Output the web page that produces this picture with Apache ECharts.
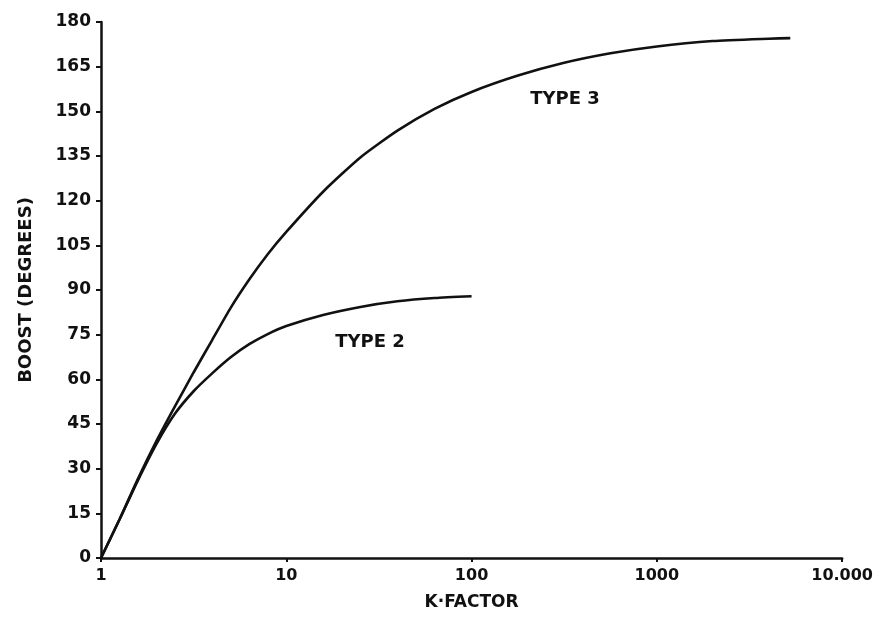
<!DOCTYPE html>
<html>
<head>
<meta charset="utf-8">
<script src="https://cdn.jsdelivr.net/npm/echarts@6/dist/echarts.min.js"></script>
<style>html,body{margin:0;padding:0;background:#fff}#c{width:876px;height:639px}</style>
</head>
<body>
<div id="c"></div>
<script>
// Values (K-factor, boost in degrees)
const kType3 = [1, 1.26, 1.58, 2, 2.51, 3.16, 3.98, 5.01, 6.31, 7.94, 10, 15.8, 25.1, 39.8, 63.1, 100, 178, 316, 562, 1000, 2000, 4000, 5250];
const bType3 = [0, 13, 26.5, 39.5, 51, 62.3, 73.2, 84, 93.5, 102, 109.5, 123, 134.5, 143.5, 150.8, 156.5, 162, 166.3, 169.5, 171.8, 173.6, 174.4, 174.6];
const kType2 = [1, 1.26, 1.58, 2, 2.51, 3.16, 3.98, 5.01, 6.31, 7.94, 10, 15.8, 25.1, 39.8, 63.1, 100];
const bType2 = [0, 13, 26, 38.5, 48.5, 56, 62, 67.4, 71.8, 75.2, 77.9, 81.6, 84.3, 86.2, 87.3, 87.9];
const xTickLabels = {1: '1', 10: '10', 100: '100', 1000: '1000', 10000: '10.000'};
const yTicks = [0, 15, 30, 45, 60, 75, 90, 105, 120, 135, 150, 165, 180];
const seriesNames = ['TYPE 3', 'TYPE 2'];

const font = 'DejaVu Sans';
const chart = echarts.init(document.getElementById('c'));
const zip = (a, b) => a.map((v, i) => [v, b[i]]);
chart.setOption({
  backgroundColor: '#fff',
  animation: false,
  grid: {left: 101, right: 32, top: 22, bottom: 81},
  xAxis: {
    type: 'log', logBase: 10, min: 1, max: 10000,
    name: 'K·FACTOR', nameLocation: 'middle', nameGap: 36,
    nameTextStyle: {fontFamily: font, fontWeight: 'bold', fontSize: 17, color: '#111'},
    axisLine: {lineStyle: {color: '#111', width: 2.5}},
    axisTick: {show: true, length: 4, lineStyle: {color: '#111', width: 2}},
    axisLabel: {fontFamily: font, fontWeight: 'bold', fontSize: 16, color: '#111', margin: 10,
      formatter: v => xTickLabels[Math.round(v)] || ''},
    splitLine: {show: false}, minorTick: {show: false}
  },
  yAxis: {
    type: 'value', min: 0, max: 180, interval: 15,
    name: 'BOOST (DEGREES)', nameLocation: 'middle', nameGap: 66,
    nameTextStyle: {fontFamily: font, fontWeight: 'bold', fontSize: 18, color: '#111'},
    axisLine: {show: true, lineStyle: {color: '#111', width: 2.5}},
    axisTick: {show: true, length: 5, lineStyle: {color: '#111', width: 2}},
    axisLabel: {fontFamily: font, fontWeight: 'bold', fontSize: 17, color: '#111', margin: 10,
      formatter: v => yTicks.includes(v) ? String(v) : ''},
    splitLine: {show: false}
  },
  series: [
    {name: seriesNames[0], type: 'line', data: zip(kType3, bType3), smooth: 0.2, showSymbol: false,
     lineStyle: {color: '#111', width: 2.6}},
    {name: seriesNames[1], type: 'line', data: zip(kType2, bType2), smooth: 0.2, showSymbol: false,
     lineStyle: {color: '#111', width: 2.6}}
  ],
  graphic: [
    {type: 'text', x: 565, y: 99, style: {text: seriesNames[0], font: 'bold 18px "DejaVu Sans"', fill: '#111', textAlign: 'center', textVerticalAlign: 'middle'}},
    {type: 'text', x: 370, y: 342, style: {text: seriesNames[1], font: 'bold 18px "DejaVu Sans"', fill: '#111', textAlign: 'center', textVerticalAlign: 'middle'}}
  ]
});
</script>
</body>
</html>
